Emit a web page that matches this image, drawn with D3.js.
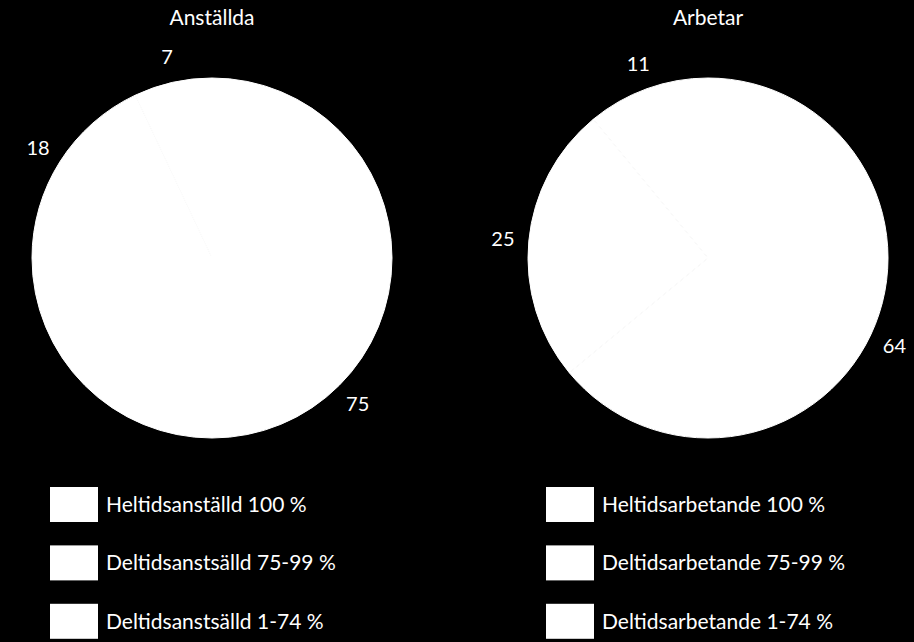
<!DOCTYPE html>
<html><head><meta charset="utf-8">
<script src="https://cdn.jsdelivr.net/npm/d3@7"></script>
<style>body{margin:0;background:#000}svg{display:block}text{font-family:Lato,"Open Sans",sans-serif;fill:#fff}</style>
</head><body>
<script>
const titles = ["Anställda", "Arbetar"];
const anstallda = [75, 18, 7];
const arbetar = [64, 25, 11];
const legendAnstallda = ["Heltidsanställd 100 %", "Deltidsanstsälld 75-99 %", "Deltidsanstsälld 1-74 %"];
const legendArbetar = ["Heltidsarbetande 100 %", "Deltidsarbetande 75-99 %", "Deltidsarbetande 1-74 %"];

const W = 914, H = 642;
const svg = d3.select("body").append("svg").attr("width", W).attr("height", H);
svg.append("rect").attr("width", W).attr("height", H).attr("fill", "#000");

const panels = [
  {title: titles[0], data: anstallda, legend: legendAnstallda, cx: 212, lx: 50},
  {title: titles[1], data: arbetar, legend: legendArbetar, cx: 708, lx: 546}
];
const R = 180, cy = 258;
const pie = d3.pie().sort(null).value(d => d);
const arc = d3.arc().innerRadius(0).outerRadius(R);
const labelArc = d3.arc().innerRadius(206).outerRadius(206);

panels.forEach(p => {
  const g = svg.append("g").attr("transform", `translate(${p.cx},${cy})`);
  svg.append("text").attr("x", p.cx).attr("y", 25).attr("text-anchor", "middle")
    .attr("font-size", 21).text(p.title);
  const arcs = pie(p.data);
  g.selectAll("path").data(arcs).join("path").attr("d", arc)
    .attr("fill", "#fff").attr("stroke", "#fff").attr("stroke-width", 1);
  g.selectAll("text.l").data(arcs).join("text").attr("class", "l")
    .attr("transform", d => `translate(${labelArc.centroid(d)})`)
    .attr("text-anchor", "middle").attr("dy", "0.35em").attr("font-size", 20)
    .text(d => d.data);
  const y = d3.scaleBand().domain(p.legend).range([487, 640]).paddingInner(0.38).paddingOuter(0);
  p.legend.forEach(t => {
    svg.append("rect").attr("x", p.lx).attr("y", y(t)).attr("width", 48).attr("height", 35).attr("fill", "#fff");
    svg.append("text").attr("x", p.lx + 56).attr("y", y(t) + 17.5).attr("dy", "0.35em")
      .attr("font-size", 21).text(t);
  });
});
</script>
</body></html>
